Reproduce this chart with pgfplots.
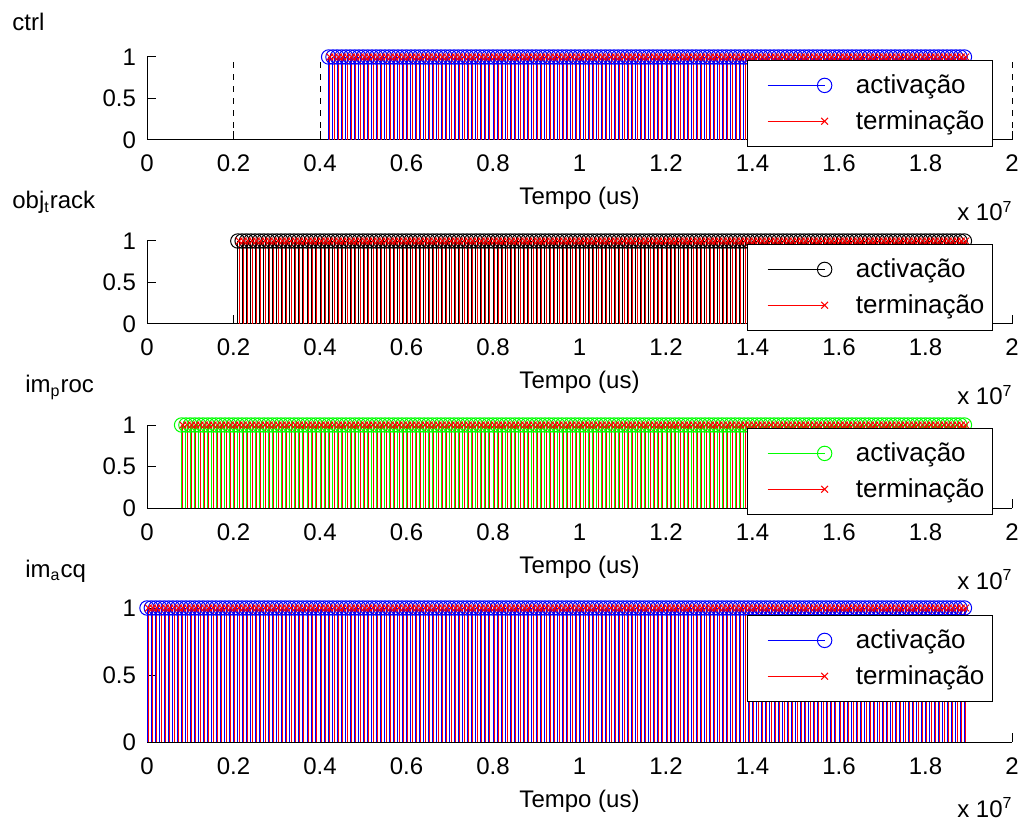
\documentclass[border=0pt]{standalone}
\usepackage{fontspec}
\setmainfont{Liberation Sans}
\usepackage{pgfplots}
\usepackage{pgfplotstable}
\pgfplotsset{compat=1.18}

% activation (a) and termination (t) instants, x 10^7 us
\pgfplotstableread[row sep=\\]{
a t v\\
0.42 0.423 1\\0.43 0.433 1\\0.44 0.443 1\\0.45 0.453 1\\0.46 0.463 1\\0.47 0.473 1\\0.48 0.483 1\\0.49 0.493 1\\
0.50 0.503 1\\0.51 0.513 1\\0.52 0.523 1\\0.53 0.533 1\\0.54 0.543 1\\0.55 0.553 1\\0.56 0.563 1\\0.57 0.573 1\\0.58 0.583 1\\0.59 0.593 1\\
0.60 0.603 1\\0.61 0.613 1\\0.62 0.623 1\\0.63 0.633 1\\0.64 0.643 1\\0.65 0.653 1\\0.66 0.663 1\\0.67 0.673 1\\0.68 0.683 1\\0.69 0.693 1\\
0.70 0.703 1\\0.71 0.713 1\\0.72 0.723 1\\0.73 0.733 1\\0.74 0.743 1\\0.75 0.753 1\\0.76 0.763 1\\0.77 0.773 1\\0.78 0.783 1\\0.79 0.793 1\\
0.80 0.803 1\\0.81 0.813 1\\0.82 0.823 1\\0.83 0.833 1\\0.84 0.843 1\\0.85 0.853 1\\0.86 0.863 1\\0.87 0.873 1\\0.88 0.883 1\\0.89 0.893 1\\
0.90 0.903 1\\0.91 0.913 1\\0.92 0.923 1\\0.93 0.933 1\\0.94 0.943 1\\0.95 0.953 1\\0.96 0.963 1\\0.97 0.973 1\\0.98 0.983 1\\0.99 0.993 1\\
1.00 1.003 1\\1.01 1.013 1\\1.02 1.023 1\\1.03 1.033 1\\1.04 1.043 1\\1.05 1.053 1\\1.06 1.063 1\\1.07 1.073 1\\1.08 1.083 1\\1.09 1.093 1\\
1.10 1.103 1\\1.11 1.113 1\\1.12 1.123 1\\1.13 1.133 1\\1.14 1.143 1\\1.15 1.153 1\\1.16 1.163 1\\1.17 1.173 1\\1.18 1.183 1\\1.19 1.193 1\\
1.20 1.203 1\\1.21 1.213 1\\1.22 1.223 1\\1.23 1.233 1\\1.24 1.243 1\\1.25 1.253 1\\1.26 1.263 1\\1.27 1.273 1\\1.28 1.283 1\\1.29 1.293 1\\
1.30 1.303 1\\1.31 1.313 1\\1.32 1.323 1\\1.33 1.333 1\\1.34 1.343 1\\1.35 1.353 1\\1.36 1.363 1\\1.37 1.373 1\\1.38 1.383 1\\1.39 1.393 1\\
1.40 1.403 1\\1.41 1.413 1\\1.42 1.423 1\\1.43 1.433 1\\1.44 1.443 1\\1.45 1.453 1\\1.46 1.463 1\\1.47 1.473 1\\1.48 1.483 1\\1.49 1.493 1\\
1.50 1.503 1\\1.51 1.513 1\\1.52 1.523 1\\1.53 1.533 1\\1.54 1.543 1\\1.55 1.553 1\\1.56 1.563 1\\1.57 1.573 1\\1.58 1.583 1\\1.59 1.593 1\\
1.60 1.603 1\\1.61 1.613 1\\1.62 1.623 1\\1.63 1.633 1\\1.64 1.643 1\\1.65 1.653 1\\1.66 1.663 1\\1.67 1.673 1\\1.68 1.683 1\\1.69 1.693 1\\
1.70 1.703 1\\1.71 1.713 1\\1.72 1.723 1\\1.73 1.733 1\\1.74 1.743 1\\1.75 1.753 1\\1.76 1.763 1\\1.77 1.773 1\\1.78 1.783 1\\1.79 1.793 1\\
1.80 1.803 1\\1.81 1.813 1\\1.82 1.823 1\\1.83 1.833 1\\1.84 1.843 1\\1.85 1.853 1\\1.86 1.863 1\\1.87 1.873 1\\1.88 1.883 1\\1.89 1.893 1\\
}\ctrldata

\pgfplotstableread[row sep=\\]{
a t v\\
0.21 0.213 1\\0.22 0.223 1\\0.23 0.233 1\\0.24 0.243 1\\0.25 0.253 1\\0.26 0.263 1\\0.27 0.273 1\\0.28 0.283 1\\0.29 0.293 1\\
0.30 0.303 1\\0.31 0.313 1\\0.32 0.323 1\\0.33 0.333 1\\0.34 0.343 1\\0.35 0.353 1\\0.36 0.363 1\\0.37 0.373 1\\0.38 0.383 1\\0.39 0.393 1\\
0.40 0.403 1\\0.41 0.413 1\\0.42 0.423 1\\0.43 0.433 1\\0.44 0.443 1\\0.45 0.453 1\\0.46 0.463 1\\0.47 0.473 1\\0.48 0.483 1\\0.49 0.493 1\\
0.50 0.503 1\\0.51 0.513 1\\0.52 0.523 1\\0.53 0.533 1\\0.54 0.543 1\\0.55 0.553 1\\0.56 0.563 1\\0.57 0.573 1\\0.58 0.583 1\\0.59 0.593 1\\
0.60 0.603 1\\0.61 0.613 1\\0.62 0.623 1\\0.63 0.633 1\\0.64 0.643 1\\0.65 0.653 1\\0.66 0.663 1\\0.67 0.673 1\\0.68 0.683 1\\0.69 0.693 1\\
0.70 0.703 1\\0.71 0.713 1\\0.72 0.723 1\\0.73 0.733 1\\0.74 0.743 1\\0.75 0.753 1\\0.76 0.763 1\\0.77 0.773 1\\0.78 0.783 1\\0.79 0.793 1\\
0.80 0.803 1\\0.81 0.813 1\\0.82 0.823 1\\0.83 0.833 1\\0.84 0.843 1\\0.85 0.853 1\\0.86 0.863 1\\0.87 0.873 1\\0.88 0.883 1\\0.89 0.893 1\\
0.90 0.903 1\\0.91 0.913 1\\0.92 0.923 1\\0.93 0.933 1\\0.94 0.943 1\\0.95 0.953 1\\0.96 0.963 1\\0.97 0.973 1\\0.98 0.983 1\\0.99 0.993 1\\
1.00 1.003 1\\1.01 1.013 1\\1.02 1.023 1\\1.03 1.033 1\\1.04 1.043 1\\1.05 1.053 1\\1.06 1.063 1\\1.07 1.073 1\\1.08 1.083 1\\1.09 1.093 1\\
1.10 1.103 1\\1.11 1.113 1\\1.12 1.123 1\\1.13 1.133 1\\1.14 1.143 1\\1.15 1.153 1\\1.16 1.163 1\\1.17 1.173 1\\1.18 1.183 1\\1.19 1.193 1\\
1.20 1.203 1\\1.21 1.213 1\\1.22 1.223 1\\1.23 1.233 1\\1.24 1.243 1\\1.25 1.253 1\\1.26 1.263 1\\1.27 1.273 1\\1.28 1.283 1\\1.29 1.293 1\\
1.30 1.303 1\\1.31 1.313 1\\1.32 1.323 1\\1.33 1.333 1\\1.34 1.343 1\\1.35 1.353 1\\1.36 1.363 1\\1.37 1.373 1\\1.38 1.383 1\\1.39 1.393 1\\
1.40 1.403 1\\1.41 1.413 1\\1.42 1.423 1\\1.43 1.433 1\\1.44 1.443 1\\1.45 1.453 1\\1.46 1.463 1\\1.47 1.473 1\\1.48 1.483 1\\1.49 1.493 1\\
1.50 1.503 1\\1.51 1.513 1\\1.52 1.523 1\\1.53 1.533 1\\1.54 1.543 1\\1.55 1.553 1\\1.56 1.563 1\\1.57 1.573 1\\1.58 1.583 1\\1.59 1.593 1\\
1.60 1.603 1\\1.61 1.613 1\\1.62 1.623 1\\1.63 1.633 1\\1.64 1.643 1\\1.65 1.653 1\\1.66 1.663 1\\1.67 1.673 1\\1.68 1.683 1\\1.69 1.693 1\\
1.70 1.703 1\\1.71 1.713 1\\1.72 1.723 1\\1.73 1.733 1\\1.74 1.743 1\\1.75 1.753 1\\1.76 1.763 1\\1.77 1.773 1\\1.78 1.783 1\\1.79 1.793 1\\
1.80 1.803 1\\1.81 1.813 1\\1.82 1.823 1\\1.83 1.833 1\\1.84 1.843 1\\1.85 1.853 1\\1.86 1.863 1\\1.87 1.873 1\\1.88 1.883 1\\1.89 1.893 1\\
}\objdata

\pgfplotstableread[row sep=\\]{
a t v\\
0.08 0.083 1\\0.09 0.093 1\\
0.10 0.103 1\\0.11 0.113 1\\0.12 0.123 1\\0.13 0.133 1\\0.14 0.143 1\\0.15 0.153 1\\0.16 0.163 1\\0.17 0.173 1\\0.18 0.183 1\\0.19 0.193 1\\
0.20 0.203 1\\0.21 0.213 1\\0.22 0.223 1\\0.23 0.233 1\\0.24 0.243 1\\0.25 0.253 1\\0.26 0.263 1\\0.27 0.273 1\\0.28 0.283 1\\0.29 0.293 1\\
0.30 0.303 1\\0.31 0.313 1\\0.32 0.323 1\\0.33 0.333 1\\0.34 0.343 1\\0.35 0.353 1\\0.36 0.363 1\\0.37 0.373 1\\0.38 0.383 1\\0.39 0.393 1\\
0.40 0.403 1\\0.41 0.413 1\\0.42 0.423 1\\0.43 0.433 1\\0.44 0.443 1\\0.45 0.453 1\\0.46 0.463 1\\0.47 0.473 1\\0.48 0.483 1\\0.49 0.493 1\\
0.50 0.503 1\\0.51 0.513 1\\0.52 0.523 1\\0.53 0.533 1\\0.54 0.543 1\\0.55 0.553 1\\0.56 0.563 1\\0.57 0.573 1\\0.58 0.583 1\\0.59 0.593 1\\
0.60 0.603 1\\0.61 0.613 1\\0.62 0.623 1\\0.63 0.633 1\\0.64 0.643 1\\0.65 0.653 1\\0.66 0.663 1\\0.67 0.673 1\\0.68 0.683 1\\0.69 0.693 1\\
0.70 0.703 1\\0.71 0.713 1\\0.72 0.723 1\\0.73 0.733 1\\0.74 0.743 1\\0.75 0.753 1\\0.76 0.763 1\\0.77 0.773 1\\0.78 0.783 1\\0.79 0.793 1\\
0.80 0.803 1\\0.81 0.813 1\\0.82 0.823 1\\0.83 0.833 1\\0.84 0.843 1\\0.85 0.853 1\\0.86 0.863 1\\0.87 0.873 1\\0.88 0.883 1\\0.89 0.893 1\\
0.90 0.903 1\\0.91 0.913 1\\0.92 0.923 1\\0.93 0.933 1\\0.94 0.943 1\\0.95 0.953 1\\0.96 0.963 1\\0.97 0.973 1\\0.98 0.983 1\\0.99 0.993 1\\
1.00 1.003 1\\1.01 1.013 1\\1.02 1.023 1\\1.03 1.033 1\\1.04 1.043 1\\1.05 1.053 1\\1.06 1.063 1\\1.07 1.073 1\\1.08 1.083 1\\1.09 1.093 1\\
1.10 1.103 1\\1.11 1.113 1\\1.12 1.123 1\\1.13 1.133 1\\1.14 1.143 1\\1.15 1.153 1\\1.16 1.163 1\\1.17 1.173 1\\1.18 1.183 1\\1.19 1.193 1\\
1.20 1.203 1\\1.21 1.213 1\\1.22 1.223 1\\1.23 1.233 1\\1.24 1.243 1\\1.25 1.253 1\\1.26 1.263 1\\1.27 1.273 1\\1.28 1.283 1\\1.29 1.293 1\\
1.30 1.303 1\\1.31 1.313 1\\1.32 1.323 1\\1.33 1.333 1\\1.34 1.343 1\\1.35 1.353 1\\1.36 1.363 1\\1.37 1.373 1\\1.38 1.383 1\\1.39 1.393 1\\
1.40 1.403 1\\1.41 1.413 1\\1.42 1.423 1\\1.43 1.433 1\\1.44 1.443 1\\1.45 1.453 1\\1.46 1.463 1\\1.47 1.473 1\\1.48 1.483 1\\1.49 1.493 1\\
1.50 1.503 1\\1.51 1.513 1\\1.52 1.523 1\\1.53 1.533 1\\1.54 1.543 1\\1.55 1.553 1\\1.56 1.563 1\\1.57 1.573 1\\1.58 1.583 1\\1.59 1.593 1\\
1.60 1.603 1\\1.61 1.613 1\\1.62 1.623 1\\1.63 1.633 1\\1.64 1.643 1\\1.65 1.653 1\\1.66 1.663 1\\1.67 1.673 1\\1.68 1.683 1\\1.69 1.693 1\\
1.70 1.703 1\\1.71 1.713 1\\1.72 1.723 1\\1.73 1.733 1\\1.74 1.743 1\\1.75 1.753 1\\1.76 1.763 1\\1.77 1.773 1\\1.78 1.783 1\\1.79 1.793 1\\
1.80 1.803 1\\1.81 1.813 1\\1.82 1.823 1\\1.83 1.833 1\\1.84 1.843 1\\1.85 1.853 1\\1.86 1.863 1\\1.87 1.873 1\\1.88 1.883 1\\1.89 1.893 1\\
}\procdata

\pgfplotstableread[row sep=\\]{
a t v\\
0.00 0.003 1\\0.01 0.013 1\\0.02 0.023 1\\0.03 0.033 1\\0.04 0.043 1\\0.05 0.053 1\\0.06 0.063 1\\0.07 0.073 1\\0.08 0.083 1\\0.09 0.093 1\\
0.10 0.103 1\\0.11 0.113 1\\0.12 0.123 1\\0.13 0.133 1\\0.14 0.143 1\\0.15 0.153 1\\0.16 0.163 1\\0.17 0.173 1\\0.18 0.183 1\\0.19 0.193 1\\
0.20 0.203 1\\0.21 0.213 1\\0.22 0.223 1\\0.23 0.233 1\\0.24 0.243 1\\0.25 0.253 1\\0.26 0.263 1\\0.27 0.273 1\\0.28 0.283 1\\0.29 0.293 1\\
0.30 0.303 1\\0.31 0.313 1\\0.32 0.323 1\\0.33 0.333 1\\0.34 0.343 1\\0.35 0.353 1\\0.36 0.363 1\\0.37 0.373 1\\0.38 0.383 1\\0.39 0.393 1\\
0.40 0.403 1\\0.41 0.413 1\\0.42 0.423 1\\0.43 0.433 1\\0.44 0.443 1\\0.45 0.453 1\\0.46 0.463 1\\0.47 0.473 1\\0.48 0.483 1\\0.49 0.493 1\\
0.50 0.503 1\\0.51 0.513 1\\0.52 0.523 1\\0.53 0.533 1\\0.54 0.543 1\\0.55 0.553 1\\0.56 0.563 1\\0.57 0.573 1\\0.58 0.583 1\\0.59 0.593 1\\
0.60 0.603 1\\0.61 0.613 1\\0.62 0.623 1\\0.63 0.633 1\\0.64 0.643 1\\0.65 0.653 1\\0.66 0.663 1\\0.67 0.673 1\\0.68 0.683 1\\0.69 0.693 1\\
0.70 0.703 1\\0.71 0.713 1\\0.72 0.723 1\\0.73 0.733 1\\0.74 0.743 1\\0.75 0.753 1\\0.76 0.763 1\\0.77 0.773 1\\0.78 0.783 1\\0.79 0.793 1\\
0.80 0.803 1\\0.81 0.813 1\\0.82 0.823 1\\0.83 0.833 1\\0.84 0.843 1\\0.85 0.853 1\\0.86 0.863 1\\0.87 0.873 1\\0.88 0.883 1\\0.89 0.893 1\\
0.90 0.903 1\\0.91 0.913 1\\0.92 0.923 1\\0.93 0.933 1\\0.94 0.943 1\\0.95 0.953 1\\0.96 0.963 1\\0.97 0.973 1\\0.98 0.983 1\\0.99 0.993 1\\
1.00 1.003 1\\1.01 1.013 1\\1.02 1.023 1\\1.03 1.033 1\\1.04 1.043 1\\1.05 1.053 1\\1.06 1.063 1\\1.07 1.073 1\\1.08 1.083 1\\1.09 1.093 1\\
1.10 1.103 1\\1.11 1.113 1\\1.12 1.123 1\\1.13 1.133 1\\1.14 1.143 1\\1.15 1.153 1\\1.16 1.163 1\\1.17 1.173 1\\1.18 1.183 1\\1.19 1.193 1\\
1.20 1.203 1\\1.21 1.213 1\\1.22 1.223 1\\1.23 1.233 1\\1.24 1.243 1\\1.25 1.253 1\\1.26 1.263 1\\1.27 1.273 1\\1.28 1.283 1\\1.29 1.293 1\\
1.30 1.303 1\\1.31 1.313 1\\1.32 1.323 1\\1.33 1.333 1\\1.34 1.343 1\\1.35 1.353 1\\1.36 1.363 1\\1.37 1.373 1\\1.38 1.383 1\\1.39 1.393 1\\
1.40 1.403 1\\1.41 1.413 1\\1.42 1.423 1\\1.43 1.433 1\\1.44 1.443 1\\1.45 1.453 1\\1.46 1.463 1\\1.47 1.473 1\\1.48 1.483 1\\1.49 1.493 1\\
1.50 1.503 1\\1.51 1.513 1\\1.52 1.523 1\\1.53 1.533 1\\1.54 1.543 1\\1.55 1.553 1\\1.56 1.563 1\\1.57 1.573 1\\1.58 1.583 1\\1.59 1.593 1\\
1.60 1.603 1\\1.61 1.613 1\\1.62 1.623 1\\1.63 1.633 1\\1.64 1.643 1\\1.65 1.653 1\\1.66 1.663 1\\1.67 1.673 1\\1.68 1.683 1\\1.69 1.693 1\\
1.70 1.703 1\\1.71 1.713 1\\1.72 1.723 1\\1.73 1.733 1\\1.74 1.743 1\\1.75 1.753 1\\1.76 1.763 1\\1.77 1.773 1\\1.78 1.783 1\\1.79 1.793 1\\
1.80 1.803 1\\1.81 1.813 1\\1.82 1.823 1\\1.83 1.833 1\\1.84 1.843 1\\1.85 1.853 1\\1.86 1.863 1\\1.87 1.873 1\\1.88 1.883 1\\1.89 1.893 1\\
}\acqdata

\pgfplotsset{
  mstem/.style={
    scale only axis, width=432.5pt, height=41.5pt,
    xmin=0, xmax=2, ymin=0, ymax=1,
    axis x line*=bottom, axis y line*=left,
    axis line style={line width=0.5pt},
    tick align=inside, major tick length=4.5pt,
    tick style={black, line width=0.5pt},
    xtick={0,0.2,0.4,0.6,0.8,1,1.2,1.4,1.6,1.8,2},
    ytick={0,0.5,1},
    /pgf/number format/assume math mode=true,
    tick label style={font=\fontsize{12}{14}\selectfont},
    xticklabel style={anchor=base, yshift=-16pt},
    yticklabel style={xshift=-2pt},
    xlabel={Tempo (us)},
    xlabel style={font=\fontsize{12}{14}\selectfont, at={(axis description cs:0.5,0)}, anchor=base, yshift=-32.5pt},
    clip=false,
    legend cell align=left,
    legend style={at={(0.978,0.964)}, anchor=north east, draw=black, line width=0.5pt, fill=white,
      font=\fontsize{13}{15}\selectfont, inner xsep=2pt, inner ysep=5pt,
      row sep=3pt, /tikz/every odd column/.append style={column sep=10pt}},
  },
  stemleg/.style={legend image code/.code={
    \path (0pt,0pt);
    \draw[##1,sharp plot,mark=none,line width=0.7pt] (8pt,0pt) -- (36.5pt,0pt);
    \path[##1,sharp plot] plot coordinates {(36.5pt,0pt)};}},
  act/.style={ycomb, line width=0.5pt, mark=o, mark size=3.6pt, mark options={solid, line width=0.5pt}, stemleg},
  term/.style={red, ycomb, line width=0.5pt, mark=x, mark size=2.4pt, mark options={solid, line width=0.5pt}, stemleg},
}

\begin{document}
\begin{tikzpicture}
\useasboundingbox (0,0) rectangle (511.5pt,-411.5pt);

\begin{axis}[mstem, at={(73.5pt,-70pt)}, anchor=south west]
\addplot[black, dashed, ycomb, mark=none, line width=0.5pt, forget plot] coordinates {(0.2,1) (0.4,1) (1,1) (2,1)};
\addplot[blue, act] table[x=a, y=v] {\ctrldata};
\addlegendentry{activação}
\addplot[term] table[x=t, y=v] {\ctrldata};
\addlegendentry{terminação}
\end{axis}

\begin{axis}[mstem, at={(73.5pt,-162pt)}, anchor=south west]
\addplot[black, act] table[x=a, y=v] {\objdata};
\addlegendentry{activação}
\addplot[term] table[x=t, y=v] {\objdata};
\addlegendentry{terminação}
\end{axis}

\begin{axis}[mstem, at={(73.5pt,-254pt)}, anchor=south west]
\addplot[green, act] table[x=a, y=v] {\procdata};
\addlegendentry{activação}
\addplot[term] table[x=t, y=v] {\procdata};
\addlegendentry{terminação}
\end{axis}

\begin{axis}[mstem, height=67pt, at={(73.5pt,-371pt)}, anchor=south west,
  legend style={at={(0.978,0.948)}}]
\addplot[blue, act] table[x=a, y=v] {\acqdata};
\addlegendentry{activação}
\addplot[term] table[x=t, y=v] {\acqdata};
\addlegendentry{terminação}
\end{axis}

\begin{scope}[every node/.style={font=\fontsize{12}{14}\selectfont, inner sep=0pt}]
\node[anchor=base west] at (6pt,-15.5pt) {ctrl};
\node[anchor=base west] at (6pt,-104.5pt) {obj\textsubscript{t}rack};
\node[anchor=base west] at (12.5pt,-196.5pt) {im\textsubscript{p}roc};
\node[anchor=base west] at (12.5pt,-288.5pt) {im\textsubscript{a}cq};
\node[anchor=base east] at (506.5pt,-110.5pt) {x 10\textsuperscript{7}};
\node[anchor=base east] at (506.5pt,-202.5pt) {x 10\textsuperscript{7}};
\node[anchor=base east] at (506.5pt,-294.5pt) {x 10\textsuperscript{7}};
\node[anchor=base east] at (506.5pt,-408.5pt) {x 10\textsuperscript{7}};
\end{scope}
\end{tikzpicture}
\end{document}
